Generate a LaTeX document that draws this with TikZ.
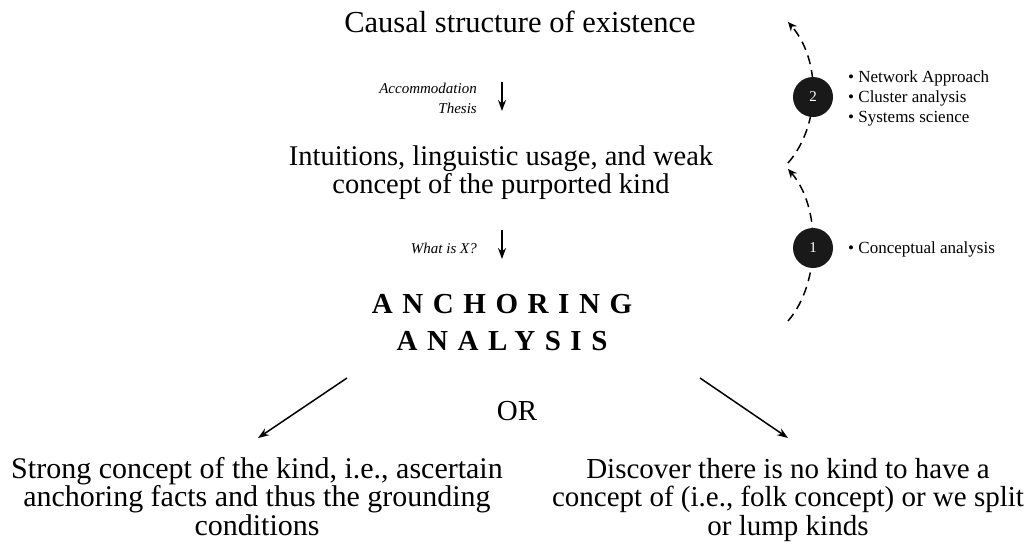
\documentclass[tikz,border=0pt]{standalone}
\usepackage{fontspec}
\setmainfont{Liberation Serif}
\newfontfamily\spacedfont[LetterSpace=33]{Liberation Serif}
\usetikzlibrary{arrows.meta}
\begin{document}
\begin{tikzpicture}[x=1pt,y=-1pt,
  txt/.style={inner sep=0pt, align=center, anchor=base},
  lab/.style={inner sep=0pt, align=right, anchor=base east, font=\fontsize{15}{20}\itshape},
  bul/.style={inner sep=0pt, align=left, anchor=base west, font=\fontsize{17}{20}\selectfont},
  arr/.style={line width=1.5pt, -{Stealth[length=11pt,width=8pt]}},
  darr/.style={line width=1.5pt, dash pattern=on 9pt off 6pt, -{Stealth[length=9pt,width=8pt]}},
  num/.style={circle, fill=black!90, inner sep=0pt, minimum size=40pt, text=white, font=\fontsize{15}{15}\selectfont}]
\useasboundingbox (0,0) rectangle (1035,544);
% main column
\node[txt, font=\fontsize{30.5}{29}\selectfont] (causal) at (520,32) {Causal structure of existence};
\node[txt, font=\fontsize{28.5}{28}\selectfont] (intu) at (501,193) {Intuitions, linguistic usage, and weak\\concept of the purported kind};
\node[txt, font=\fontsize{29}{37}\bfseries\spacedfont] (anch) at (502,350) {ANCHORING\\ANALYSIS};
\node[txt, font=\fontsize{29}{29}\selectfont] (or) at (517,420) {OR};
\node[txt, font=\fontsize{30}{28.5}\selectfont] (strong) at (257,535) {Strong concept of the kind, i.e., ascertain\\anchoring facts and thus the grounding\\conditions};
\node[txt, font=\fontsize{29}{28.5}\selectfont] (disc) at (788,535) {Discover there is no kind to have a\\concept of (i.e., folk concept) or we split\\or lump kinds};
% labels
\node[lab] (acc) at (477,113) {Accommodation\\Thesis};
\node[lab] (what) at (477,253) {What is X?};
% arrows
\coordinate (a1s) at (502,82);
\coordinate (a1e) at (502,111);
\coordinate (a2s) at (502,230);
\coordinate (a2e) at (502,259);
\draw[arr] (a1s) -- (a1e);
\draw[arr] (a2s) -- (a2e);
\coordinate (l1s) at (347,378);
\coordinate (l1e) at (258,438);
\coordinate (r1s) at (700,378);
\coordinate (r1e) at (788,438);
\draw[arr] (l1s) -- (l1e);
\draw[arr] (r1s) -- (r1e);
% dashed arcs
\coordinate (u0) at (788,163);
\coordinate (u1) at (788,22);
\coordinate (d0) at (788,321);
\coordinate (d1) at (788,169);
\draw[darr] (u0) .. controls (821,125) and (821,60) .. (u1);
\draw[darr] (d0) .. controls (821,283) and (821,207) .. (d1);
\node[num] (c2) at (813,97) {2};
\node[num] (c1) at (813,248) {1};
\node[bul] (b2) at (848,122) {• Network Approach\\• Cluster analysis\\• Systems science};
\node[bul] (b1) at (848,253) {• Conceptual analysis};
\end{tikzpicture}
\end{document}
